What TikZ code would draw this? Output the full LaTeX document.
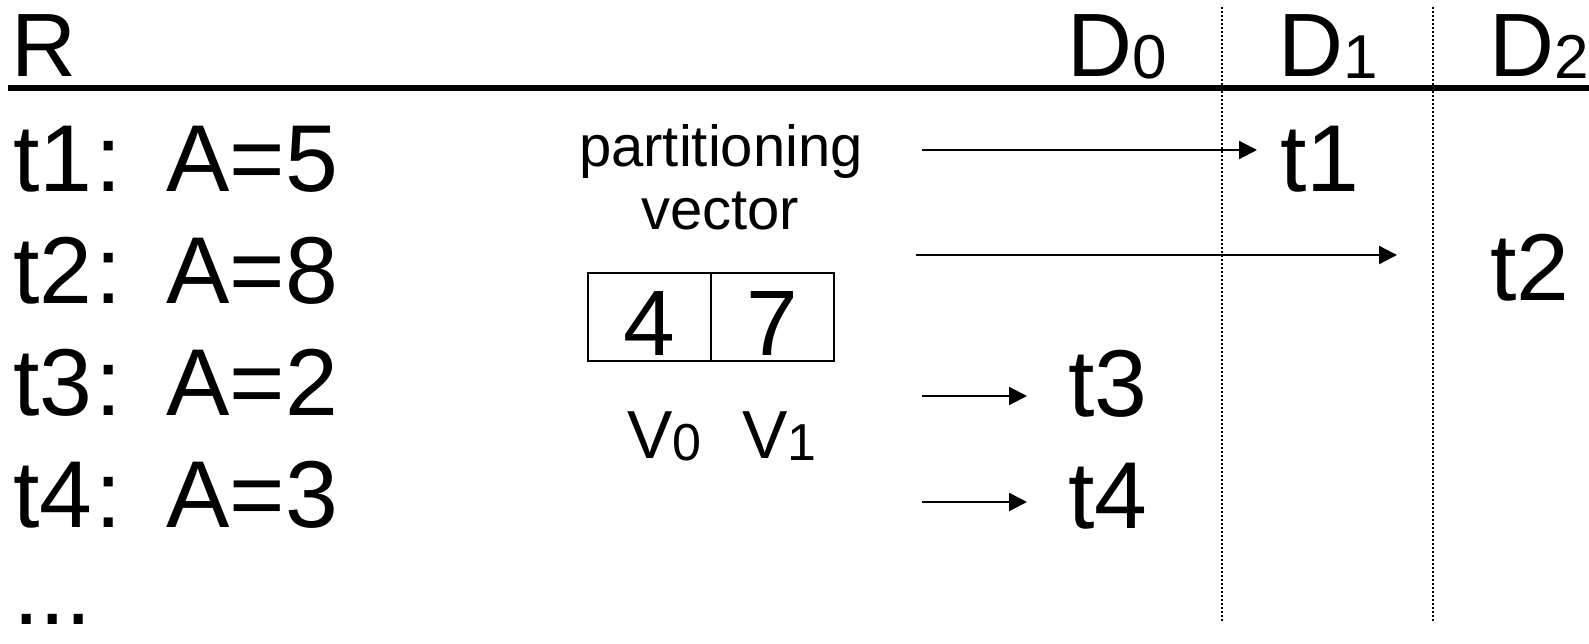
\documentclass[tikz,border=0pt]{standalone}
\usepackage{fontspec}
\setmainfont{Liberation Sans}
\usetikzlibrary{arrows.meta}
\newcommand{\fsz}[1]{\fontsize{#1}{#1}\selectfont}
\newcommand{\lowdigit}[2][62]{\raisebox{-2pt}{\fsz{#1}#2}}
\begin{document}
\begin{tikzpicture}[x=1pt,y=-1pt,
  lbl/.style={inner sep=0pt, outer sep=0pt, anchor=base west},
  big/.style={lbl, font=\fsz{95}},
  head/.style={lbl, font=\fsz{90}},
  small/.style={inner sep=0pt, outer sep=0pt, anchor=base, font=\fsz{58}},
  vlab/.style={lbl, font=\fsz{68}},
  cell/.style={draw, line width=1.5pt, minimum width=123pt, minimum height=88pt,
    inner sep=0pt, text height=76pt, text depth=0pt, font=\fsz{93}},
  sepline/.style={line width=1.6pt, dash pattern=on 1.6pt off 2.4pt},
  arr/.style={line width=2.2pt, -{Triangle[length=18pt,width=18pt]}}
]
\useasboundingbox (0,0) rectangle (1589,644);

% header: relation and the three partitions
\node[head] (R) at (11,77) {R};
\node[head] (D0) at (1067,77) {D\lowdigit{0}};
\node[head] (D1) at (1278,77) {D\lowdigit{1}};
\node[head] (D2) at (1489,77) {D\lowdigit{2}};
\draw[line width=6pt] (8,88) -- (1589,88);

% partition boundaries
\draw[sepline] (1222,7) -- (1222,622);
\draw[sepline] (1433,7) -- (1433,622);

% tuples of R
\node[big] (r1) at (13.5,192) {t1\kern3pt: \kern9pt A=5};
\node[big] (r2) at (13.5,303) {t2\kern3pt: \kern9pt A=8};
\node[big] (r3) at (13.5,415) {t3\kern3pt: \kern9pt A=2};
\node[big] (r4) at (13.5,527) {t4\kern3pt: \kern9pt A=3};
\node[big] (more) at (13,624) {...};

% partitioning vector
\node[small] (pt) at (721,167) {partitioning};
\node[small] (vc) at (720,230) {vector};
\node[cell] (c0) at (649.5,317) {4};
\node[cell] (c1) at (772.5,317) {7};
\node[vlab] (v0) at (627,458) {V\lowdigit[52]{0}};
\node[vlab] (v1) at (742,458) {V\lowdigit[52]{1}};

% tuples placed in their partitions
\node[big] (p1) at (1280,192) {t1};
\node[big] (p2) at (1490,300) {t2};
\node[big] (p3) at (1068,416) {t3};
\node[big] (p4) at (1068,528) {t4};

% routing arrows
\coordinate (a1) at (922,150);  \coordinate (b1) at (1257,150);
\coordinate (a2) at (916,255);  \coordinate (b2) at (1397,255);
\coordinate (a3) at (922,396);  \coordinate (b3) at (1027,396);
\coordinate (a4) at (922,502);  \coordinate (b4) at (1027,502);
\draw[arr] (a1) -- (b1);
\draw[arr] (a2) -- (b2);
\draw[arr] (a3) -- (b3);
\draw[arr] (a4) -- (b4);
\end{tikzpicture}
\end{document}
